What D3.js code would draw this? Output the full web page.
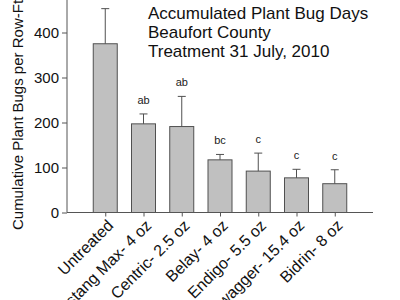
<!DOCTYPE html>
<html><head><meta charset="utf-8">
<script src="https://cdn.jsdelivr.net/npm/d3@7"></script>
<style>body{margin:0;background:#fff}svg{display:block;font-family:Arial,"Liberation Sans",sans-serif}</style>
</head><body>
<svg id="c" width="400" height="300"></svg>
<script>
const categories = ["Untreated","Mustang Max- 4 oz","Centric- 2.5 oz","Belay- 4 oz","Endigo- 5.5 oz","Swagger- 15.4 oz","Bidrin- 8 oz"];
const means = [375, 197, 191, 117, 92, 77, 64];
const errTops = [453, 219, 258, 129, 132, 96, 95];
const letters = ["a","ab","ab","bc","c","c","c"];
const yTicks = [0,100,200,300,400];
const titleLines = ["Accumulated Plant Bug Days","Beaufort County","Treatment 31 July, 2010"];
const yLabel = "Cumulative Plant Bugs per Row-Ft";

const svg = d3.select("#c");
const x0 = 67, x1 = 373, yBase = 212.5;
const x = d3.scalePoint().domain(categories).range([x0, x1]).padding(1);
const y = d3.scaleLinear().domain([0, 500]).range([yBase, yBase - 225]);
const bw = 24;
const axisCol = "#555";

// bars
svg.selectAll("rect.bar").data(categories).enter().append("rect")
  .attr("x", d => x(d) - bw/2).attr("width", bw)
  .attr("y", (d,i) => y(means[i])).attr("height", (d,i) => y(0) - y(means[i]))
  .attr("fill", "#c0c0c0").attr("stroke", "#505050").attr("stroke-width", 1);

// error bars
const eb = svg.selectAll("g.eb").data(categories).enter().append("g");
eb.append("line").attr("x1", d => x(d)).attr("x2", d => x(d))
  .attr("y1", (d,i) => y(means[i])).attr("y2", (d,i) => y(errTops[i]))
  .attr("stroke", "#505050");
eb.append("line").attr("x1", d => x(d) - 4).attr("x2", d => x(d) + 4)
  .attr("y1", (d,i) => y(errTops[i])).attr("y2", (d,i) => y(errTops[i]))
  .attr("stroke", "#505050");
eb.append("text").attr("x", d => x(d)).attr("y", (d,i) => y(errTops[i]) - 10)
  .attr("text-anchor", "middle").attr("font-size", 11).attr("fill", "#222")
  .text((d,i) => letters[i]);

// y axis
const ya = svg.append("g").attr("transform", `translate(${x0},0)`)
  .call(d3.axisLeft(y).tickValues(yTicks).tickSize(5).tickPadding(3));
ya.select(".domain").attr("stroke", axisCol).attr("d", `M0,${y(500)}V${yBase}`);
ya.selectAll(".tick line").attr("stroke", axisCol);
ya.selectAll(".tick text").attr("font-size", 15).attr("fill", "#111").attr("font-family", "Arial,'Liberation Sans',sans-serif");

// x axis
const xa = svg.append("g").attr("transform", `translate(0,${yBase})`)
  .call(d3.axisBottom(x).tickSize(4).tickFormat(""));
xa.select(".domain").attr("stroke", axisCol).attr("d", `M${x0},0H${x1}`);
xa.selectAll(".tick line").attr("stroke", axisCol);

svg.selectAll("text.xl").data(categories).enter().append("text")
  .attr("transform", d => `translate(${x(d) + 5},${yBase + 10}) rotate(-45)`)
  .attr("text-anchor", "end").attr("dy", "0.35em")
  .attr("font-size", 16).attr("fill", "#111").text(d => d);

// y label
svg.append("text").attr("transform", `translate(22.5,${115}) rotate(-90)`)
  .attr("text-anchor", "middle").attr("font-size", 15).attr("fill", "#111").text(yLabel);

// title
svg.selectAll("text.tt").data(titleLines).enter().append("text")
  .attr("x", 148).attr("y", (d,i) => 19 + i*19)
  .attr("font-size", 17).attr("fill", "#111").text(d => d);
</script>
</body></html>
